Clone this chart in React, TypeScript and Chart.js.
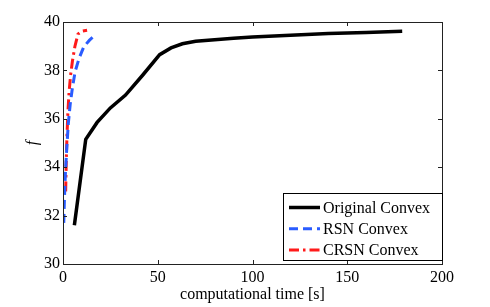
import { useEffect, useRef } from "react";
import { Chart, registerables } from "chart.js";

Chart.register(...registerables);

const originalX = [6, 12, 18, 25, 33, 42, 51, 57, 63, 70, 80, 90, 100, 120, 140, 160, 179];
const originalY = [31.6, 35.15, 35.85, 36.45, 36.98, 37.8, 38.65, 38.93, 39.1, 39.2, 39.27, 39.33, 39.38, 39.45, 39.52, 39.57, 39.62];

const rsnX = [0.4, 0.8, 1.3, 2.0, 2.8, 3.8, 5.0, 6.4, 8.5, 11, 14, 17.5];
const rsnY = [31.7, 32.8, 33.8, 34.8, 35.8, 36.6, 37.3, 37.95, 38.5, 38.98, 39.25, 39.5];

const crsnX = [1.4, 1.7, 2.1, 2.6, 3.2, 4.0, 5.0, 6.3, 7.9, 10, 12.7];
const crsnY = [33.0, 34.2, 35.3, 36.3, 37.1, 37.8, 38.4, 39.0, 39.5, 39.62, 39.66];

const seriesLabels = ["Original Convex", "RSN Convex", "CRSN Convex"];
const xTicks = [0, 50, 100, 150, 200];
const yTicks = [30, 32, 34, 36, 38, 40];

const FONT = "'Liberation Serif', 'Times New Roman', serif";
const FS = 16;

const toPts = (xs: number[], ys: number[]) => xs.map((x, i) => ({ x, y: ys[i] }));

const framePlugin = {
  id: "frameAndLegend",
  afterDatasetsDraw(chart: any) {
    const { ctx, chartArea, scales } = chart;
    const { left, right, top, bottom } = chartArea;
    const xs = scales.x;
    const ys = scales.y;
    ctx.save();
    ctx.strokeStyle = "#222";
    ctx.lineWidth = 1;
    ctx.strokeRect(left + 0.5, top + 0.5, right - left, bottom - top);
    const tl = 4;
    ctx.beginPath();
    xTicks.forEach((v) => {
      const px = Math.round(xs.getPixelForValue(v)) + 0.5;
      ctx.moveTo(px, bottom);
      ctx.lineTo(px, bottom - tl);
      ctx.moveTo(px, top);
      ctx.lineTo(px, top + tl);
    });
    yTicks.forEach((v) => {
      const py = Math.round(ys.getPixelForValue(v)) + 0.5;
      ctx.moveTo(left, py);
      ctx.lineTo(left + tl, py);
      ctx.moveTo(right, py);
      ctx.lineTo(right - tl, py);
    });
    ctx.stroke();

    const bw = 159;
    const bh = 67;
    const bx = right - bw;
    const by = bottom - 4 - bh;
    ctx.fillStyle = "#fff";
    ctx.fillRect(bx, by, bw, bh);
    ctx.strokeStyle = "#000";
    ctx.lineWidth = 1;
    ctx.strokeRect(bx + 0.5, by + 0.5, bw, bh);
    chart.data.datasets.forEach((ds: any, i: number) => {
      const yy = by + 14.5 + i * 21.2;
      ctx.beginPath();
      ctx.strokeStyle = ds.borderColor;
      ctx.lineWidth = ds.borderWidth;
      ctx.setLineDash(ds.borderDash || []);
      ctx.moveTo(bx + 6, yy);
      ctx.lineTo(bx + 37, yy);
      ctx.stroke();
      ctx.setLineDash([]);
      ctx.fillStyle = "#000";
      ctx.font = `${FS}px ${FONT}`;
      ctx.textBaseline = "middle";
      ctx.textAlign = "left";
      ctx.fillText(ds.label, bx + 40, yy + 1);
    });
    ctx.restore();
  },
};

export default function App() {
  const ref = useRef<HTMLCanvasElement>(null);
  useEffect(() => {
    document.body.style.margin = "0";
    const chart = new Chart(ref.current!, {
      type: "line",
      data: {
        datasets: [
          {
            label: seriesLabels[0],
            data: toPts(originalX, originalY),
            borderColor: "#000000",
            borderWidth: 3.5,
            pointRadius: 0,
            tension: 0,
          },
          {
            label: seriesLabels[1],
            data: toPts(rsnX, rsnY),
            borderColor: "#2a5cff",
            borderWidth: 3,
            borderDash: [9, 5],
            pointRadius: 0,
            tension: 0,
          },
          {
            label: seriesLabels[2],
            data: toPts(crsnX, crsnY),
            borderColor: "#ff1a1a",
            borderWidth: 3,
            borderDash: [10, 4, 2.5, 4],
            pointRadius: 0,
            tension: 0,
          },
        ],
      },
      options: {
        animation: false,
        responsive: false,
        maintainAspectRatio: false,
        layout: { padding: { left: 0, top: 22, right: 48, bottom: 0 } },
        plugins: { legend: { display: false }, tooltip: { enabled: false } },
        scales: {
          x: {
            type: "linear",
            min: 0,
            max: 200,
            afterFit: (s: any) => {
              s.height = 43;
            },
            afterBuildTicks: (s: any) => {
              s.ticks = xTicks.map((v) => ({ value: v }));
            },
            grid: { display: false, drawTicks: false },
            border: { display: false },
            ticks: { color: "#000", font: { family: FONT, size: FS }, padding: 4, maxRotation: 0 },
            title: {
              display: true,
              text: "computational time [s]",
              color: "#000",
              font: { family: FONT, size: FS },
              padding: { top: 0, bottom: 3 },
            },
          },
          y: {
            type: "linear",
            min: 30,
            max: 40,
            afterFit: (s: any) => {
              s.width = 63;
            },
            afterBuildTicks: (s: any) => {
              s.ticks = yTicks.map((v) => ({ value: v }));
            },
            grid: { display: false, drawTicks: false },
            border: { display: false },
            ticks: { color: "#000", font: { family: FONT, size: FS }, padding: 3 },
            title: {
              display: true,
              text: "f",
              color: "#000",
              font: { family: FONT, size: FS, style: "italic" },
              padding: { top: 23, bottom: 0 },
            },
          },
        },
      },
      plugins: [framePlugin],
    });
    return () => chart.destroy();
  }, []);
  return (
    <div style={{ position: "relative", width: 490, height: 307 }}>
      <canvas ref={ref} width={490} height={307} style={{ display: "block" }} />
    </div>
  );
}
